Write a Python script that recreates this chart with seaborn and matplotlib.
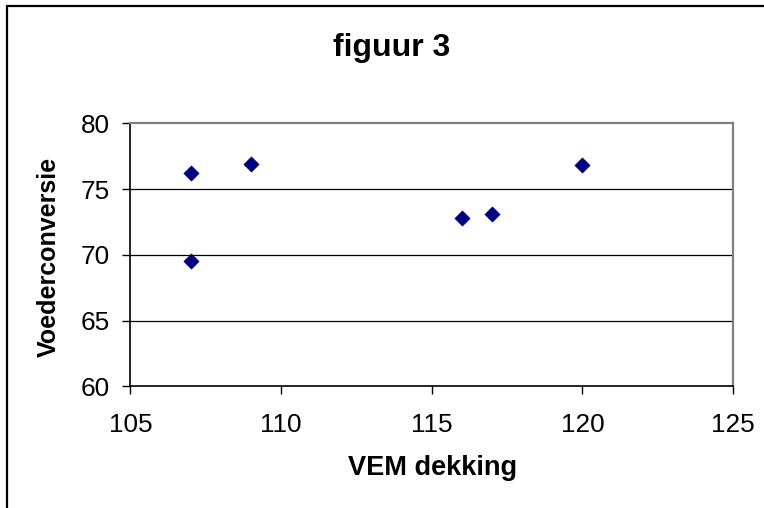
import matplotlib
matplotlib.use("Agg")
import matplotlib.pyplot as plt
from matplotlib.lines import Line2D
import seaborn as sns
import pandas as pd

# VEM coverage versus feed conversion
vem_dekking = [107, 107, 109, 116, 117, 120]
voederconversie = [76.2, 69.5, 76.9, 72.8, 73.1, 76.8]
x_ticks = [105, 110, 115, 120, 125]
y_ticks = [60, 65, 70, 75, 80]

df = pd.DataFrame({"VEM dekking": vem_dekking, "Voederconversie": voederconversie})

sns.set_theme(style="white")
plt.rcParams["font.family"] = ["Liberation Sans", "DejaVu Sans"]
plt.rcParams["text.color"] = "black"
plt.rcParams["axes.labelcolor"] = "black"

fig = plt.figure(figsize=(7.64, 5.08), dpi=100)
fig.patch.set_facecolor("white")
ax = fig.add_axes([0.1708, 0.2392, 0.9594 - 0.1708, 0.7573 - 0.2392])

# horizontal gridlines
for yv in y_ticks[1:-1]:
    ax.axhline(yv, color="#000000", lw=0.9, zorder=1)

sns.scatterplot(data=df, x="VEM dekking", y="Voederconversie", marker="D",
                s=62, color="#000080", edgecolor="#000080", linewidth=0.3,
                ax=ax, zorder=3, legend=False)

ax.set_xlim(105, 125)
ax.set_ylim(60, 80)
ax.set_xticks(x_ticks)
ax.set_yticks(y_ticks)
ax.tick_params(axis="both", which="major", direction="out", length=6,
               width=1, color="black", labelsize=18.8, labelcolor="black",
               bottom=True, left=True)
ax.tick_params(axis="y", pad=9)
ax.tick_params(axis="x", pad=13)

for side in ("left", "bottom"):
    ax.spines[side].set_color("black")
    ax.spines[side].set_linewidth(1.2)
for side in ("top", "right"):
    ax.spines[side].set_color("#808080")
    ax.spines[side].set_linewidth(1.6)

ax.set_xlabel("")
ax.set_ylabel("")
fig.text(433 / 764, 1 - 468 / 508, "VEM dekking", fontsize=19.5, fontweight="bold",
         color="black", ha="center", va="center")
fig.text(49 / 764, 1 - 257 / 508, "Voederconversie", fontsize=18, fontweight="bold",
         color="black", ha="center", va="center", rotation=90)
fig.text(392 / 764, 1 - 48 / 508, "figuur 3", fontsize=23, fontweight="bold",
         color="black", ha="center", va="center")

# chart frame along the left and top edges
fig.add_artist(Line2D([7 / 764, 7 / 764], [0, 1 - 5.5 / 508], transform=fig.transFigure,
                      color="black", lw=1.6))
fig.add_artist(Line2D([7 / 764, 1], [1 - 5.5 / 508, 1 - 5.5 / 508], transform=fig.transFigure,
                      color="black", lw=1.6))

fig.savefig("out.png", dpi=100, facecolor="white")
